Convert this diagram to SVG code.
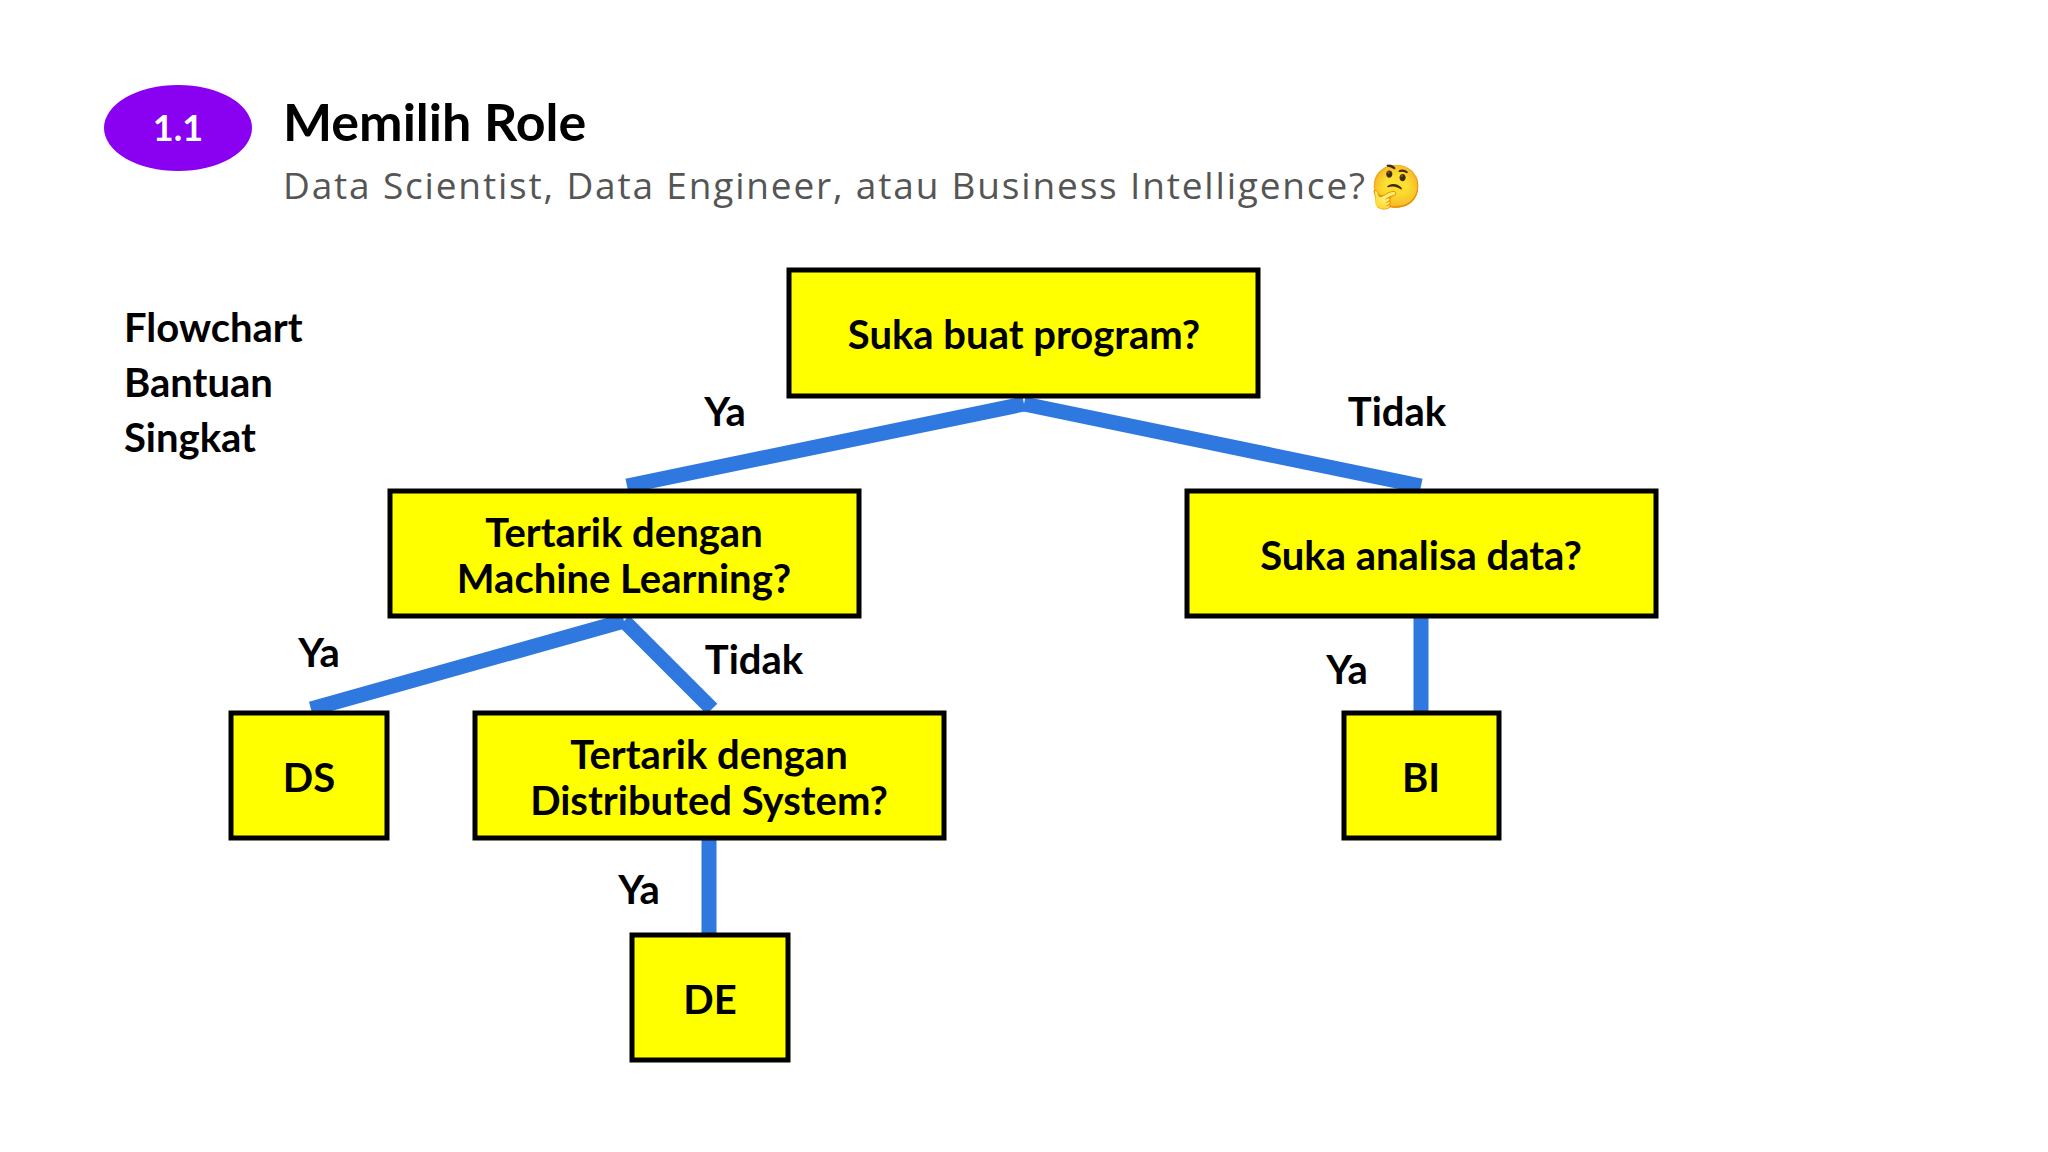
<svg xmlns="http://www.w3.org/2000/svg" width="2048" height="1152" viewBox="0 0 2048 1152">
<style>
.b{fill:#ffff00;stroke:#000;stroke-width:5}
.t{font-family:Lato,"Open Sans",sans-serif;font-weight:bold;font-size:40px;fill:#000;text-anchor:middle}
.l{font-family:Lato,"Open Sans",sans-serif;font-weight:bold;font-size:40px;fill:#000}
.c{stroke:#2f78e0;stroke-width:15;fill:none}
</style>
<rect width="2048" height="1152" fill="#fff"/>
<g id="header">
<ellipse cx="178" cy="128" rx="74" ry="43" fill="#8a00f0"/>
<text x="178" y="141" font-family="Lato,sans-serif" font-weight="bold" font-size="36" fill="#fff" text-anchor="middle">1.1</text>
<text x="283" y="141" font-family="Lato,sans-serif" font-weight="bold" font-size="52" fill="#000">Memilih Role</text>
<text x="283" y="199" font-family="'Open Sans',sans-serif" font-size="37" fill="#555" textLength="1082" lengthAdjust="spacing">Data Scientist, Data Engineer, atau Business Intelligence?</text>
<text x="1370" y="201" font-family="sans-serif" font-size="42">🤔</text>
<text class="l" x="124" y="342">Flowchart</text>
<text class="l" x="124" y="397">Bantuan</text>
<text class="l" x="124" y="452">Singkat</text>
</g>
<g id="connectors">
<line class="c" x1="1024" y1="404" x2="627" y2="486"/>
<line class="c" x1="1024" y1="404" x2="1421" y2="486"/>
<line class="c" x1="624" y1="621" x2="311" y2="709"/>
<line class="c" x1="624" y1="621" x2="712" y2="709"/>
<line class="c" x1="1421" y1="616" x2="1421" y2="713"/>
<line class="c" x1="709" y1="838" x2="709" y2="935"/>
<text class="t" x="725" y="426">Ya</text>
<text class="t" x="1397" y="426">Tidak</text>
<text class="t" x="319" y="667">Ya</text>
<text class="t" x="754" y="674">Tidak</text>
<text class="t" x="1347" y="684">Ya</text>
<text class="t" x="639" y="904">Ya</text>
</g>
<g id="n1"><rect class="b" x="789" y="270" width="469" height="126"/><text class="t" x="1024" y="349">Suka buat program?</text></g>
<g id="n2"><rect class="b" x="390" y="491" width="469" height="125"/><text class="t" x="624" y="547">Tertarik dengan</text><text class="t" x="624" y="593">Machine Learning?</text></g>
<g id="n3"><rect class="b" x="1187" y="491" width="469" height="125"/><text class="t" x="1421" y="570">Suka analisa data?</text></g>
<g id="n4"><rect class="b" x="231" y="713" width="156" height="125"/><text class="t" x="309" y="792">DS</text></g>
<g id="n5"><rect class="b" x="475" y="713" width="469" height="125"/><text class="t" x="709" y="769">Tertarik dengan</text><text class="t" x="709" y="815">Distributed System?</text></g>
<g id="n6"><rect class="b" x="1344" y="713" width="155" height="125"/><text class="t" x="1421" y="792">BI</text></g>
<g id="n7"><rect class="b" x="632" y="935" width="156" height="125"/><text class="t" x="710" y="1014">DE</text></g>
</svg>
